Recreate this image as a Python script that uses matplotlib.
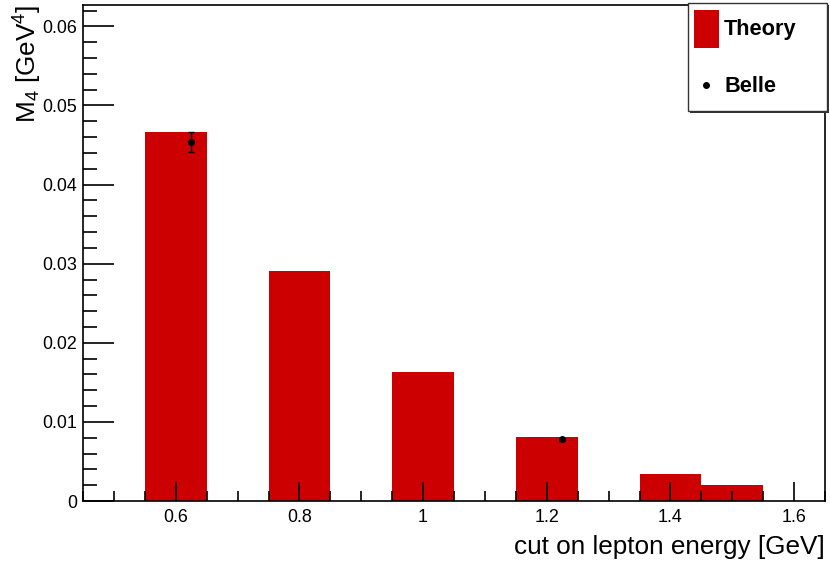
# M4 vs cut on lepton energy: theory histogram and Belle points

import numpy as np
import matplotlib
matplotlib.use('Agg')
import matplotlib.pyplot as plt
from matplotlib.patches import Rectangle
from matplotlib.lines import Line2D
from matplotlib.ticker import MultipleLocator

plt.rcParams['font.family'] = ['Liberation Sans', 'DejaVu Sans']
plt.rcParams['mathtext.fontset'] = 'custom'
plt.rcParams['mathtext.rm'] = 'Liberation Sans'
plt.rcParams['mathtext.it'] = 'Liberation Sans'

# teoria (histograma, bins de ancho 0.1)
cut_theory = [0.6, 0.8, 1.0, 1.2, 1.4, 1.5]
m4_theory = [0.0466, 0.0291, 0.0163, 0.0081, 0.0034, 0.0020]
bin_width = 0.1

# datos Belle
cut_belle = [0.624, 1.225]
m4_belle = [0.0454, 0.0078]
err_belle = [0.0013, 0.0002]

red = '#cc0000'

fig = plt.figure(figsize=(8.3, 5.63), dpi=100)
ax = fig.add_axes([83/830, 1 - 501/563, (825 - 83)/830, (501 - 5)/563])
ax.set_axisbelow(False)

ax.bar(cut_theory, m4_theory, width=bin_width, color=red, edgecolor='none', zorder=1)
ax.errorbar(cut_belle, m4_belle, yerr=err_belle, fmt='o', color='black',
            markersize=4, elinewidth=1, capsize=2.5, zorder=3)

ax.set_xlim(0.45, 1.65)
ax.set_ylim(0, 0.0627)

ax.xaxis.set_major_locator(MultipleLocator(0.2))
ax.xaxis.set_minor_locator(MultipleLocator(0.05))
ax.yaxis.set_major_locator(MultipleLocator(0.01))
ax.yaxis.set_minor_locator(MultipleLocator(0.002))
ax.set_xticks([0.6, 0.8, 1.0, 1.2, 1.4, 1.6])
ax.set_xticklabels(['0.6', '0.8', '1', '1.2', '1.4', '1.6'])
ax.set_yticks([0, 0.01, 0.02, 0.03, 0.04, 0.05, 0.06])
ax.set_yticklabels(['0', '0.01', '0.02', '0.03', '0.04', '0.05', '0.06'])

ax.tick_params(axis='both', which='both', direction='in', labelsize=12.9, width=1.2,
               top=False, right=False)
ax.tick_params(axis='y', which='major', length=22, pad=4)
ax.tick_params(axis='y', which='minor', length=10)
ax.tick_params(axis='x', which='major', length=14, pad=6)
ax.tick_params(axis='x', which='minor', length=7)
for s in ax.spines.values():
    s.set_linewidth(1.2)

ax.set_xlabel('cut on lepton energy [GeV]', fontsize=18.8, loc='right', labelpad=6)
ax.set_ylabel(r'M$_4$ [GeV$^4$]', fontsize=18.8, loc='top', labelpad=-1)

# leyenda estilo ROOT
W, H = 830.0, 563.0
def fx(px): return px / W
def fy(py): return 1 - py / H

fig.patches.append(Rectangle((fx(690), fy(113)), fx(829) - fx(690), fy(5) - fy(113),
                             transform=fig.transFigure, facecolor='#333333',
                             edgecolor='none', zorder=4))
fig.patches.append(Rectangle((fx(688), fy(111)), fx(827) - fx(688), fy(3) - fy(111),
                             transform=fig.transFigure, facecolor='white',
                             edgecolor='#333333', linewidth=1, zorder=5))
fig.patches.append(Rectangle((fx(694), fy(48)), fx(719) - fx(694), fy(10) - fy(48),
                             transform=fig.transFigure, facecolor=red,
                             edgecolor='none', zorder=6))
fig.lines.append(Line2D([fx(706)], [fy(85)], transform=fig.transFigure, marker='o',
                        markersize=4, color='black', zorder=6))
fig.text(fx(724), fy(29), 'Theory', fontsize=15.7, fontweight='bold', va='center',
         ha='left', zorder=7)
fig.text(fx(724), fy(86), 'Belle', fontsize=15.7, fontweight='bold', va='center',
         ha='left', zorder=7)

fig.savefig('out.png', dpi=100)
